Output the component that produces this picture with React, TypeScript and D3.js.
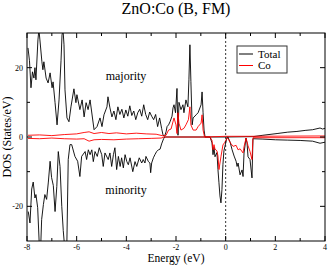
import React from 'react';
import * as d3 from 'd3';

// Spin-resolved DOS, [energy (eV), states/eV]
const totalUp: [number, number][] = [
  [-7.96, 25.7], [-7.90, 22], [-7.84, 14.2], [-7.78, 18.8], [-7.72, 17], [-7.68, 20], [-7.64, 16.5],
  [-7.56, 28], [-7.52, 31], [-7.48, 28], [-7.40, 21.7], [-7.36, 19.4], [-7.32, 21.7], [-7.23, 17],
  [-7.15, 15.6], [-7.07, 18.5], [-6.99, 14.2], [-6.95, 15.9], [-6.87, 9.9], [-6.79, 3.5], [-6.71, 10.7],
  [-6.63, 22], [-6.59, 29.4], [-6.55, 31], [-6.51, 26.6], [-6.47, 13.6], [-6.39, 5.5], [-6.31, 4.4],
  [-6.23, 8.7], [-6.11, 13.9], [-6.03, 9.9], [-5.99, 12.2], [-5.87, 7.9], [-5.78, 10.7], [-5.70, 5.8],
  [-5.62, 9.9], [-5.54, 7.9], [-5.46, 10.7], [-5.30, 2.1], [-5.18, 3], [-5.06, 5.5], [-4.98, 3],
  [-4.90, 6.4], [-4.78, 8.7], [-4.74, 11.6], [-4.66, 8.4], [-4.58, 5.8], [-4.50, 7.5], [-4.42, 5.0],
  [-4.34, 8.7], [-4.26, 6.5], [-4.18, 8.0], [-4.10, 5.5], [-4.02, 7.8], [-3.94, 6.0], [-3.86, 9.0],
  [-3.78, 6.2], [-3.70, 7.5], [-3.62, 5.0], [-3.54, 7.0], [-3.46, 8.0], [-3.38, 6.0], [-3.30, 9.3],
  [-3.22, 6.5], [-3.14, 5.0], [-3.06, 7.2], [-2.98, 6.0], [-2.90, 5.0], [-2.82, 6.5], [-2.74, 3.0],
  [-2.66, 5.5], [-2.58, 2.5], [-2.52, 0.5], [-2.46, 0.2], [-2.40, 1.5], [-2.36, 3], [-2.30, 3.5],
  [-2.24, 4.4], [-2.16, 6], [-2.12, 8.4], [-2.08, 9.3], [-2.02, 7], [-1.96, 14], [-1.92, 0.5],
  [-1.88, 10], [-1.80, 7.9], [-1.72, 9.3], [-1.68, 7], [-1.60, 10.7], [-1.52, 8.7], [-1.48, 16.5],
  [-1.44, 26.6], [-1.40, 16], [-1.35, 3.5], [-1.31, 5.5], [-1.19, 6.4], [-1.11, 7], [-0.99, 9.3],
  [-0.95, 13], [-0.91, 7], [-0.87, 2], [-0.83, 0], [0, 0], [1.1, 0.1], [1.5, 0.5], [2.07, 1],
  [2.5, 1.4], [2.87, 1.6], [3.2, 1.9], [3.5, 2.1], [3.8, 2.6], [3.9, 2.3], [4.0, 2.5],
];

const totalDown: [number, number][] = [
  [-7.95, -21.5], [-7.88, -24.8], [-7.81, -15], [-7.75, -13], [-7.68, -17.6], [-7.64, -16.6],
  [-7.57, -20.4], [-7.50, -32], [-7.45, -32], [-7.41, -23.8], [-7.34, -19.5], [-7.28, -16.6],
  [-7.21, -18], [-7.14, -13], [-7.07, -7], [-7.01, -11.7], [-6.94, -14], [-6.87, -21.5],
  [-6.80, -14.3], [-6.74, -4.2], [-6.67, -8.5], [-6.60, -20], [-6.54, -27], [-6.47, -33],
  [-6.40, -33], [-6.34, -6.5], [-6.27, -2.2], [-6.20, -2.2], [-6.07, -5.6], [-5.96, -7],
  [-5.87, -11.4], [-5.80, -5.6], [-5.66, -4.2], [-5.60, -6.5], [-5.53, -3.7], [-5.46, -5.1],
  [-5.39, -3.7], [-5.33, -7.1], [-5.26, -4.2], [-5.17, -5.6], [-5.09, -3.1], [-4.99, -5.1],
  [-4.93, -8.5], [-4.86, -4.6], [-4.73, -6.5], [-4.66, -4.6], [-4.59, -8.5], [-4.52, -5.1],
  [-4.46, -3.1], [-4.39, -9.4], [-4.32, -5.6], [-4.25, -8.5], [-4.19, -6.0], [-4.12, -8.9],
  [-4.05, -5.1], [-3.98, -7.1], [-3.92, -8.0], [-3.85, -6.0], [-3.74, -10.0], [-3.65, -7.1],
  [-3.58, -8.5], [-3.48, -6.0], [-3.38, -7.5], [-3.32, -6.5], [-3.25, -7.5], [-3.21, -5.6],
  [-3.11, -7.1], [-3.05, -7.5], [-3.02, -10.3], [-2.98, -7.5], [-2.91, -6.0], [-2.85, -5.1],
  [-2.78, -4.2], [-2.71, -3.7], [-2.64, -3.5], [-2.58, -2], [-2.50, -0.5], [-2.45, 0],
  [-0.63, 0], [-0.55, -1.7], [-0.51, -5.1], [-0.47, -3], [-0.43, -5.7], [-0.35, -4.5],
  [-0.31, -9.4], [-0.27, -13.2], [-0.23, -17], [-0.19, -19], [-0.15, -15.2], [-0.11, -8],
  [-0.07, -4], [-0.03, -2.7], [0.05, -0.2], [0.09, 0], [0.18, -1.5], [0.26, -3.7], [0.34, -5.5],
  [0.42, -7], [0.46, -8.5], [0.50, -7.5], [0.58, -10.9], [0.66, -9.5], [0.70, -11.4], [0.74, -4.6],
  [0.82, -0.3], [0.86, -1.7], [0.90, -5.7], [0.98, -6.5], [1.06, -11.8], [1.10, -0.5], [1.5, -0.6],
  [2.0, -0.8], [2.5, -0.9], [3.0, -1.0], [3.5, -1.2], [3.8, -1.8], [4.0, -1.5],
];

const coUp: [number, number][] = [
  [-7.96, 0.5], [-7.5, 0.6], [-7.0, 0.4], [-6.5, 0.7], [-6.0, 0.9], [-5.7, 1.3], [-5.5, 1.5],
  [-5.3, 1.0], [-5.0, 1.3], [-4.7, 1.0], [-4.4, 1.2], [-4.0, 0.9], [-3.6, 1.1], [-3.2, 0.9],
  [-2.8, 0.8], [-2.5, 0.3], [-2.4, 0.5], [-2.30, 2], [-2.20, 2.3], [-2.08, 5.5], [-2.0, 3.5],
  [-1.96, 1], [-1.92, 7], [-1.88, 4], [-1.80, 2], [-1.68, 2.5], [-1.60, 3.5], [-1.50, 5],
  [-1.44, 8.7], [-1.40, 3.5], [-1.31, 2], [-1.19, 2], [-1.11, 3], [-0.99, 4], [-0.95, 6.4],
  [-0.91, 2], [-0.85, 0], [0, 0.2], [1, 0.2], [4, 0.3],
];

const coDown: [number, number][] = [
  [-7.96, -0.4], [-7.5, -0.5], [-7.0, -0.3], [-6.5, -0.5], [-6.0, -0.6], [-5.7, -0.5], [-5.5, -1.2],
  [-5.3, -0.8], [-5.0, -0.7], [-4.5, -0.8], [-4.0, -0.6], [-3.5, -0.5], [-3.0, -0.4], [-2.6, -0.3],
  [-2.45, 0], [-0.63, 0], [-0.55, -1], [-0.51, -3.7], [-0.47, -2.2], [-0.43, -3.5], [-0.35, -4],
  [-0.31, -5.5], [-0.27, -9.4], [-0.19, -5.7], [-0.11, -2.3], [-0.03, -1.5], [0.05, -0.3],
  [0.09, -0.4], [0.2, -1.8], [0.30, -2.7], [0.42, -2.4], [0.50, -3.7], [0.58, -3.4], [0.70, -4.6],
  [0.74, -2.8], [0.82, -0.3], [0.90, -2.5], [0.98, -4.2], [1.06, -6.5], [1.10, -0.2], [4.0, -0.2],
];

const xMajor = [-8, -6, -4, -2, 0, 2, 4];
const xMinor = [-7, -5, -3, -1, 1, 3];
const yMajor = [-20, 0, 20];
const yMinor = [-10, 10];

const legendItems = [
  { name: 'Total', color: '#000000' },
  { name: 'Co', color: '#ff0000' },
];

const W = 328;
const H = 265;
const left = 27, right = 325, top = 33, bottom = 241;
const font = '"Liberation Serif", "Times New Roman", serif';

const App: React.FC = () => {
  const x = d3.scaleLinear().domain([-8, 4]).range([left, right]);
  const y = d3.scaleLinear().domain([-30, 30]).range([bottom, top]);

  const line = d3.line<[number, number]>()
    .x(d => x(d[0]))
    .y(d => y(d[1]));

  const series = [
    { data: totalUp, color: '#000000' },
    { data: totalDown, color: '#000000' },
    { data: coUp, color: '#ff0000' },
    { data: coDown, color: '#ff0000' },
  ];

  return (
    <svg width={W} height={H} style={{ position: 'absolute', left: 0, top: 0, background: '#fff' }}
      fontFamily={font}>
      <defs>
        <clipPath id="plot-clip">
          <rect x={left} y={top} width={right - left} height={bottom - top} />
        </clipPath>
      </defs>

      <text x={176} y={14} fontSize={16} textAnchor="middle">ZnO:Co (B, FM)</text>

      {/* curves */}
      <g clipPath="url(#plot-clip)">
        {series.map((s, i) => (
          <path key={i} d={line(s.data) || ''} fill="none" stroke={s.color} strokeWidth={0.9} />
        ))}
      </g>

      {/* Fermi level */}
      <line x1={x(0)} x2={x(0)} y1={top} y2={bottom} stroke="#000" strokeWidth={0.8}
        strokeDasharray="2,2" />

      {/* frame */}
      <rect x={left} y={top} width={right - left} height={bottom - top} fill="none" stroke="#000"
        strokeWidth={1} />

      {/* x ticks */}
      {xMajor.map(t => (
        <g key={'xM' + t}>
          <line x1={x(t)} x2={x(t)} y1={bottom} y2={bottom - 5} stroke="#000" />
          <line x1={x(t)} x2={x(t)} y1={top} y2={top + 5} stroke="#000" />
          <text x={x(t)} y={bottom + 8.5} fontSize={8} textAnchor="middle">{t}</text>
        </g>
      ))}
      {xMinor.map(t => (
        <g key={'xm' + t}>
          <line x1={x(t)} x2={x(t)} y1={bottom} y2={bottom - 3} stroke="#000" />
          <line x1={x(t)} x2={x(t)} y1={top} y2={top + 3} stroke="#000" />
        </g>
      ))}

      {/* y ticks */}
      {yMajor.map(t => (
        <g key={'yM' + t}>
          <line x1={left} x2={left + 5} y1={y(t)} y2={y(t)} stroke="#000" />
          <line x1={right} x2={right - 5} y1={y(t)} y2={y(t)} stroke="#000" />
          <text x={left - 4} y={y(t) + 3} fontSize={8} textAnchor="end">{t}</text>
        </g>
      ))}
      {yMinor.map(t => (
        <g key={'ym' + t}>
          <line x1={left} x2={left + 3} y1={y(t)} y2={y(t)} stroke="#000" />
          <line x1={right} x2={right - 3} y1={y(t)} y2={y(t)} stroke="#000" />
        </g>
      ))}

      {/* axis labels */}
      <text x={176} y={262} fontSize={11.5} textAnchor="middle">Energy (eV)</text>
      <text transform={`translate(11,${(top + bottom) / 2}) rotate(-90)`} fontSize={12}
        textAnchor="middle">DOS (States/eV)</text>

      {/* annotations */}
      <text x={126} y={80} fontSize={12} textAnchor="middle">majority</text>
      <text x={126} y={194} fontSize={12} textAnchor="middle">minority</text>

      {/* legend */}
      <rect x={237} y={46} width={50} height={27} fill="#fff" stroke="#333" strokeWidth={1} />
      {legendItems.map((item, i) => (
        <g key={item.name}>
          <line x1={239} x2={253} y1={54 + i * 11.5} y2={54 + i * 11.5} stroke={item.color}
            strokeWidth={1} />
          <text x={258} y={57.5 + i * 11.5} fontSize={11}>{item.name}</text>
        </g>
      ))}
    </svg>
  );
};

export default App;
